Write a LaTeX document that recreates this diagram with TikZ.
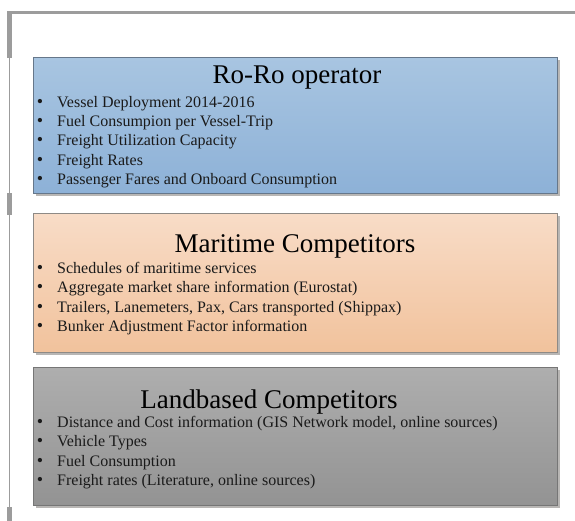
\documentclass[tikz,border=0pt]{standalone}
\usepackage{fontspec}
\setmainfont{Liberation Serif}
\newfontfamily\tnr{Liberation Serif}
\usetikzlibrary{shadows}
\definecolor{frameline}{HTML}{9C9C9C}
\definecolor{blueTop}{HTML}{A8C5E1}
\definecolor{blueBot}{HTML}{8DB1D7}
\definecolor{blueEdge}{HTML}{66778A}
\definecolor{orTop}{HTML}{F8DCC7}
\definecolor{orBot}{HTML}{F1C29C}
\definecolor{orEdge}{HTML}{8E8A86}
\definecolor{grTop}{HTML}{AEAEAE}
\definecolor{grBot}{HTML}{939393}
\definecolor{grEdge}{HTML}{767676}
\definecolor{shad}{HTML}{B8B6B4}
\definecolor{txt}{HTML}{1A1A1A}
\tikzset{
  panel/.style={draw, line width=1.2pt, anchor=north west, minimum width=524pt, minimum height=136pt,
    drop shadow={shadow xshift=2.5pt, shadow yshift=-2.5pt, fill=shad, opacity=1}},
  title/.style={anchor=base, inner sep=0pt, font=\tnr\fontsize{27}{30}\selectfont, text=black},
  item/.style={anchor=base west, inner sep=0pt, font=\tnr\fontsize{16}{19}\selectfont, text=txt},
  dot/.style={anchor=base, inner sep=0pt, font=\tnr\fontsize{18}{19}\selectfont, text=txt}
}
\begin{document}
\begin{tikzpicture}[x=1pt,y=-1pt]
\useasboundingbox (0,0) rectangle (575,521);
% frame decorations
\draw[frameline, line width=3pt] (7,13) -- (575,13);
\draw[frameline, line width=1.6pt] (9.5,13) -- (9.5,521);
\fill[frameline] (7,12) rectangle (12,58);
\fill[frameline] (7,193) rectangle (12,215);
\fill[frameline] (7,507) rectangle (12,521);
% panels
\node[panel, draw=blueEdge, top color=blueTop, bottom color=blueBot, minimum height=136pt] (roro) at (33,57) {};
\node[panel, draw=orEdge, top color=orTop, bottom color=orBot, minimum height=139pt] (mari) at (33,213) {};
\node[panel, draw=grEdge, top color=grTop, bottom color=grBot, minimum height=138pt] (land) at (33,367) {};
% titles
\node[title] (t1) at (297,84) {Ro-Ro operator};
\node[title] (t2) at (295,253) {Maritime Competitors};
\node[title] (t3) at (269,408) {Landbased Competitors};
% items
\foreach \txt [count=\i] in {Vessel Deployment 2014-2016, Fuel Consumpion per Vessel-Trip, Freight Utilization Capacity, Freight Rates, Passenger Fares and Onboard Consumption}{
  \node[dot] (rb\i) at (40,{88+19.3*\i}) {\textbullet};
  \node[item] (ri\i) at (57,{88+19.3*\i}) {\txt};
}
\foreach \txt [count=\i] in {Schedules of maritime services, Aggregate market share information (Eurostat), {Trailers, Lanemeters, Pax, Cars transported (Shippax)}, Bunker Adjustment Factor information}{
  \node[dot] (mb\i) at (40,{253.5+19.5*\i}) {\textbullet};
  \node[item] (mi\i) at (57,{253.5+19.5*\i}) {\txt};
}
\foreach \txt [count=\i] in {{Distance and Cost information (GIS Network model, online sources)}, Vehicle Types, Fuel Consumption, {Freight rates (Literature, online sources)}}{
  \node[dot] (lb\i) at (40,{407.5+19.5*\i}) {\textbullet};
  \node[item] (li\i) at (57,{407.5+19.5*\i}) {\txt};
}
\end{tikzpicture}
\end{document}
